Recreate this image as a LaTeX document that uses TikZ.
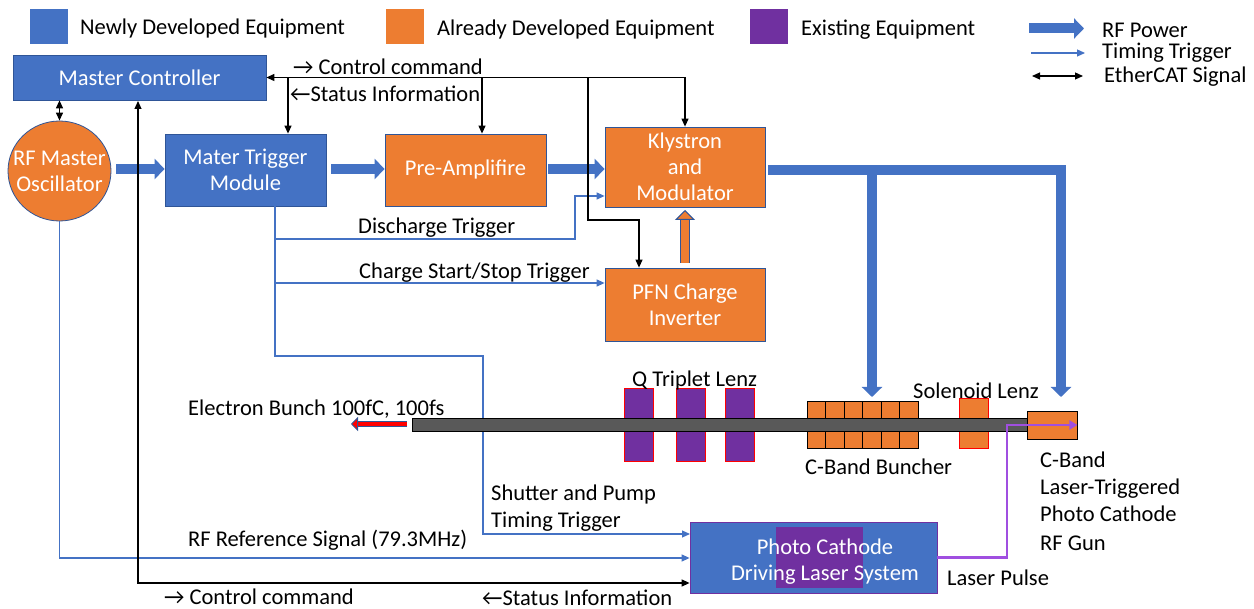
\documentclass[tikz,border=0pt]{standalone}
\usepackage{fontspec}
\setmainfont{Carlito}
\usetikzlibrary{arrows.meta,shapes.geometric}
\definecolor{newblue}{HTML}{4472C4}
\definecolor{doneorange}{HTML}{ED7D31}
\definecolor{oldpurple}{HTML}{7030A0}
\definecolor{edgeblue}{HTML}{2F5597}
\definecolor{laserpurple}{HTML}{A04FE0}
\definecolor{pipegray}{HTML}{595959}
\tikzset{
  label/.style={inner sep=0pt, anchor=west, align=left, font=\fontsize{22.5}{27}\selectfont},
  unit/.style={draw=edgeblue, line width=0.8pt, inner sep=0pt, align=center, text=white,
    font=\fontsize{22.5}{26}\selectfont},
  newunit/.style={unit, fill=newblue},
  doneunit/.style={unit, fill=doneorange},
  swatch/.style={inner sep=0pt, minimum width=38pt, minimum height=35pt},
  lens/.style={draw=red, line width=0.9pt, fill=oldpurple, inner sep=0pt, minimum width=29pt, minimum height=73pt},
  cell/.style={draw=black, line width=0.9pt, fill=doneorange, inner sep=0pt, minimum width=18.7pt, minimum height=47pt},
  rfpower/.style={draw=newblue, line width=10pt, -{Triangle[length=10pt,width=20pt]}},
  rftrunk/.style={draw=newblue, line width=10pt},
  timing/.style={draw=newblue, line width=1.2pt, -{Triangle[length=8pt,width=7pt]}},
  ethernet/.style={draw=black, line width=1.2pt, -{Triangle[length=8pt,width=7pt]}},
  outlined/.style={draw=edgeblue, line width=1pt, double distance=8pt,
    -{Triangle[length=10pt,width=20pt,fill=#1,line width=1pt]}, double=#1},
}
\newcommand{\mypower}[2]
{
\draw[rfpower] (#1) -- (#2);
}
\begin{document}
\begin{tikzpicture}[x=1pt, y=-1pt]
  \useasboundingbox (0,0) rectangle (1254,609);

  \node[swatch, fill=newblue] (keynew) at (49,26.5) {};
  \node[label] (keynewtext) at (80,29) {Newly Developed Equipment};
  \node[swatch, fill=doneorange] (keydone) at (405,26.5) {};
  \node[label] (keydonetext) at (437,30) {Already Developed Equipment};
  \node[swatch, fill=oldpurple] (keyold) at (769,26.5) {};
  \node[label] (keyoldtext) at (801,30) {Existing Equipment};
  \node[label] (keypower) at (1102,30) {RF Power};
  \node[label] (keytiming) at (1102,53) {Timing Trigger};
  \node[label] (keyether) at (1104,77) {EtherCAT Signal};
  \coordinate (keypowerA) at (1029,28.5);
  \coordinate (keypowerB) at (1084,28.5);
  \coordinate (keytimingA) at (1031,53);
  \coordinate (keytimingB) at (1085,53);
  \coordinate (keyetherA) at (1032,76);
  \coordinate (keyetherB) at (1083,76);
  \mypower{keypowerA}{keypowerB}
  \draw[timing] (keytimingA) -- (keytimingB);
  \draw[ethernet, {Triangle[length=8pt,width=7pt]}-{Triangle[length=8pt,width=7pt]}] (keyetherA) -- (keyetherB);

  \node[newunit, minimum width=253pt, minimum height=45pt] (ctrl) at (139.5,77.5) {Master Controller};
  \node[doneunit, ellipse, inner sep=-14pt, minimum width=103pt, minimum height=100pt] (osc) at (59.5,171) {RF Master\\Oscillator};
  \node[newunit, minimum width=161pt, minimum height=72pt] (trig) at (245.5,170) {Mater Trigger\\Module};
  \node[doneunit, minimum width=161pt, minimum height=72pt] (preamp) at (465.5,170) {Pre-Amplifire};
  \node[doneunit, minimum width=160pt, minimum height=80pt] (klystron) at (685,167) {Klystron\\and\\Modulator};
  \node[doneunit, minimum width=160pt, minimum height=73pt] (pfn) at (685,304.5) {PFN Charge\\Inverter};
  \node[newunit, draw=oldpurple, minimum width=247pt, minimum height=71pt] (laser) at (813.5,557.5) {};
  \node[fill=oldpurple, inner sep=0pt, minimum width=87pt, minimum height=61pt] (lasercore) at (819.5,557.5) {};
  \node[unit, draw=none] (lasertext) at (825,561.5) {Photo Cathode\\Driving Laser System};

  \coordinate (oscout) at (116,169);
  \coordinate (trigout) at (331,169);
  \coordinate (preout) at (548,169);
  \coordinate (klyout) at (768,170);
  \coordinate (trunk) at (1066,170);
  \coordinate (feedA) at (872,175);
  \coordinate (feedB) at (1061,175);
  \coordinate (feedAend) at (872,397);
  \coordinate (feedBend) at (1061,397);
  \coordinate (trigin) at (trig.west |- oscout);
  \coordinate (prein) at (preamp.west |- trigout);
  \coordinate (klyin) at (klystron.west |- preout);
  \mypower{oscout}{trigin}
  \mypower{trigout}{prein}
  \mypower{preout}{klyin}
  \draw[rftrunk] (klyout) -- (trunk);
  \mypower{feedA}{feedAend}
  \mypower{feedB}{feedBend}
  \coordinate (pfnout) at (685,263);
  \coordinate (klybottom) at (685,210);
  \draw[outlined=doneorange] (pfnout) -- (klybottom);

  \coordinate (trigA) at (275,206);
  \coordinate (splitA) at (275,239);
  \coordinate (splitB) at (275,283);
  \coordinate (turnA) at (575,196);
  \coordinate (turnB) at (483,356);
  \coordinate (shutter) at (690,534);
  \coordinate (refline) at (60,558);
  \draw[timing] (splitA) -| (turnA) -- (turnA -| klystron.west);
  \draw[timing] (splitB) -- (splitB -| pfn.west);
  \draw[timing] (trigA) |- (turnB) |- (shutter);
  \draw[timing] (osc.south) |- (laser.west |- refline);

  \coordinate (busA) at (288,78);
  \coordinate (busB) at (482,78);
  \coordinate (busC) at (588,78);
  \coordinate (turnC) at (639,220);
  \coordinate (ctrlin) at (138,101);
  \coordinate (lowbus) at (138,583);
  \draw[ethernet, {Triangle[length=8pt,width=7pt]}-{Triangle[length=8pt,width=7pt]}] (ctrl.east) -| (klystron.north);
  \draw[ethernet] (busA) -- (busA |- trig.north);
  \draw[ethernet] (busB) -- (busB |- preamp.north);
  \draw[ethernet] (busC) |- (turnC) -- (turnC |- pfn.north);
  \draw[ethernet, {Triangle[length=8pt,width=7pt]}-{Triangle[length=8pt,width=7pt]}] (ctrl.south -| osc.north) -- (osc.north);
  \draw[ethernet, {Triangle[length=8pt,width=7pt]}-{Triangle[length=8pt,width=7pt]}] (ctrlin) -- (lowbus) -- (lowbus -| laser.west);

  \node[lens] (lensA) at (638.5,424.5) {};
  \node[lens] (lensB) at (690.5,424.5) {};
  \node[lens] (lensC) at (739.5,424.5) {};
  \node[cell] (cellA) at (816.5,424.5) {};
  \node[cell] (cellB) at (835,424.5) {};
  \node[cell] (cellC) at (853.5,424.5) {};
  \node[cell] (cellD) at (872,424.5) {};
  \node[cell] (cellE) at (890.5,424.5) {};
  \node[cell] (cellF) at (909,424.5) {};
  \node[lens, fill=doneorange, minimum height=50pt] (solenoid) at (973.5,423) {};
  \node[draw=black, line width=0.9pt, fill=pipegray, inner sep=0pt, minimum width=615pt, minimum height=13pt] (pipe) at (719.5,424.5) {};
  \node[cell, minimum width=50pt, minimum height=28pt] (gun) at (1052,425) {};

  \coordinate (bunchA) at (407,424);
  \coordinate (bunchB) at (351,424);
  \draw[outlined=red, double distance=4pt, -{Triangle[length=7pt,width=14pt,fill=red,line width=0.8pt]}] (bunchA) -- (bunchB);
  \coordinate (laserbend) at (1007,425);
  \draw[draw=laserpurple, line width=2.6pt, -{Triangle[length=8pt,width=9pt]}] (laser.east) -| (laserbend) -- (gun.east);

  \node[label] (cmdtop) at (293,67) {→ Control command};
  \node[label] (statustop) at (290,94) {←Status Information};
  \node[label] (discharge) at (358,228) {Discharge Trigger};
  \node[label] (charge) at (359,273) {Charge Start/Stop Trigger};
  \node[label] (triplet) at (632,381) {Q Triplet Lenz};
  \node[label] (solenoidtext) at (913,391) {Solenoid Lenz};
  \node[label] (bunch) at (188,409) {Electron Bunch 100fC, 100fs};
  \node[label] (buncher) at (805,467) {C-Band Buncher};
  \node[label] (guntext) at (1040,501) {C-Band\\Laser-Triggered\\Photo Cathode\\[2pt]RF Gun};
  \node[label] (shuttertext) at (491,508) {Shutter and Pump\\Timing Trigger};
  \node[label] (reference) at (188,540) {RF Reference Signal (79.3MHz)};
  \node[label] (pulse) at (947,578) {Laser Pulse};
  \node[label] (cmdlow) at (164,597) {→ Control command};
  \node[label] (statuslow) at (482,597.5) {←Status Information};
\end{tikzpicture}
\end{document}
